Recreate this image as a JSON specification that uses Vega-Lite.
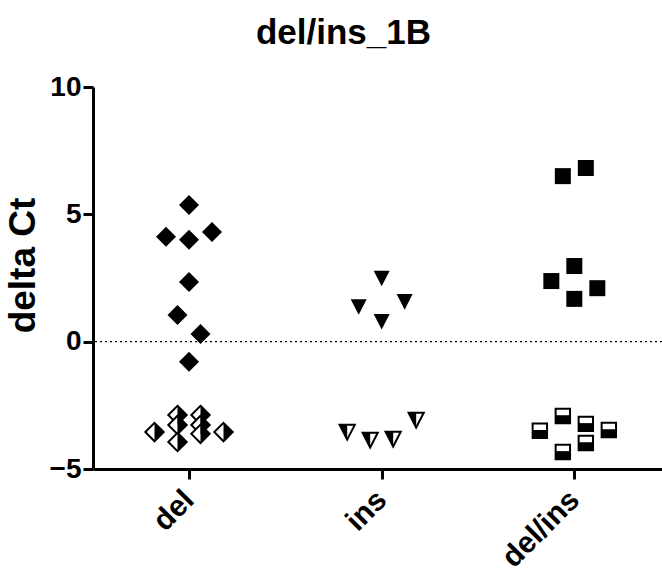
{
  "$schema": "https://vega.github.io/schema/vega-lite/v6.json",
  "width": 569,
  "height": 382,
  "autosize": "none",
  "padding": {"left": 93, "top": 87, "right": 0, "bottom": 101},
  "background": "white",
  "config": {
    "view": {"stroke": null},
    "font": "Liberation Sans"
  },
  "title": {
    "text": "del/ins_1B",
    "fontSize": 35,
    "fontWeight": "bold",
    "font": "Liberation Sans",
    "color": "black",
    "anchor": "middle",
    "offset": 22,
    "dx": -34
  },
  "resolve": {"scale": {"shape": "independent"}},
  "data": {
    "values": [
      {"group": "del", "value": 5.37, "jit": 0, "kind": "filled"},
      {"group": "del", "value": 4.12, "jit": -2, "kind": "filled"},
      {"group": "del", "value": 4.0, "jit": 0, "kind": "filled"},
      {"group": "del", "value": 4.31, "jit": 2, "kind": "filled"},
      {"group": "del", "value": 2.34, "jit": 0, "kind": "filled"},
      {"group": "del", "value": 1.05, "jit": -1, "kind": "filled"},
      {"group": "del", "value": 0.3, "jit": 1, "kind": "filled"},
      {"group": "del", "value": -0.79, "jit": 0, "kind": "filled"},
      {"group": "del", "value": -3.55, "jit": -3, "kind": "half"},
      {"group": "del", "value": -2.88, "jit": -1, "kind": "half"},
      {"group": "del", "value": -3.27, "jit": -1, "kind": "half"},
      {"group": "del", "value": -3.94, "jit": -1, "kind": "half"},
      {"group": "del", "value": -2.88, "jit": 1, "kind": "half"},
      {"group": "del", "value": -3.27, "jit": 1, "kind": "half"},
      {"group": "del", "value": -3.62, "jit": 1, "kind": "half"},
      {"group": "del", "value": -3.55, "jit": 3, "kind": "half"},
      {"group": "ins", "value": 2.49, "jit": 0, "kind": "filled"},
      {"group": "ins", "value": 1.37, "jit": -2, "kind": "filled"},
      {"group": "ins", "value": 1.57, "jit": 2, "kind": "filled"},
      {"group": "ins", "value": 0.79, "jit": 0, "kind": "filled"},
      {"group": "ins", "value": -3.55, "jit": -3, "kind": "half"},
      {"group": "ins", "value": -3.86, "jit": -1, "kind": "half"},
      {"group": "ins", "value": -3.82, "jit": 1, "kind": "half"},
      {"group": "ins", "value": -3.07, "jit": 3, "kind": "half"},
      {"group": "del/ins", "value": 6.5, "jit": -1, "kind": "filled"},
      {"group": "del/ins", "value": 6.82, "jit": 1, "kind": "filled"},
      {"group": "del/ins", "value": 2.97, "jit": 0, "kind": "filled"},
      {"group": "del/ins", "value": 2.38, "jit": -2, "kind": "filled"},
      {"group": "del/ins", "value": 2.1, "jit": 2, "kind": "filled"},
      {"group": "del/ins", "value": 1.68, "jit": 0, "kind": "filled"},
      {"group": "del/ins", "value": -3.5, "jit": -3, "kind": "half"},
      {"group": "del/ins", "value": -2.92, "jit": -1, "kind": "half"},
      {"group": "del/ins", "value": -3.23, "jit": 1, "kind": "half"},
      {"group": "del/ins", "value": -3.47, "jit": 3, "kind": "half"},
      {"group": "del/ins", "value": -4.33, "jit": -1, "kind": "half"},
      {"group": "del/ins", "value": -3.98, "jit": 1, "kind": "half"}
    ]
  },
  "encoding": {
    "x": {
      "field": "group",
      "type": "nominal",
      "sort": ["del", "ins", "del/ins"],
      "scale": {"domain": ["del", "ins", "del/ins"], "type": "band", "paddingInner": 0, "paddingOuter": 0, "range": [0, 578]},
      "axis": {
        "title": null,
        "domainWidth": 3,
        "domainColor": "black",
        "tickWidth": 3,
        "tickColor": "black",
        "tickSize": 10,
        "labelAngle": -45,
        "labelAlign": "right",
        "labelBaseline": "middle",
        "labelFontSize": 30,
        "labelFontWeight": "bold",
        "labelFont": "Liberation Sans",
        "labelColor": "black",
        "labelPadding": 16,
        "grid": false
      }
    },
    "xOffset": {
      "field": "jit",
      "type": "quantitative",
      "scale": {"domain": [-8.35, 8.35], "range": [0, 192]}
    },
    "y": {
      "field": "value",
      "type": "quantitative",
      "scale": {"domain": [-5, 10], "nice": false, "zero": false},
      "axis": {
        "title": "delta Ct",
        "titleFontSize": 37,
        "titleFontWeight": "bold",
        "titleFont": "Liberation Sans",
        "titleColor": "black",
        "titlePadding": 7,
        "titleY": 178,
        "values": [-5, 0, 5, 10],
        "domainWidth": 3,
        "domainColor": "black",
        "tickWidth": 3,
        "tickColor": "black",
        "tickSize": 10,
        "labelFontSize": 28,
        "labelFontWeight": "bold",
        "labelFont": "Liberation Sans",
        "labelColor": "black",
        "labelPadding": 2,
        "grid": false
      }
    }
  },
  "layer": [
    {
      "data": {"values": [{"y0": 0}]},
      "mark": {"type": "rule", "strokeDash": [2, 3], "strokeWidth": 1.2, "color": "black"},
      "encoding": {
        "y": {"field": "y0", "type": "quantitative"},
        "x": null,
        "xOffset": null
      }
    },
    {
      "transform": [{"filter": "datum.kind === 'filled'"}],
      "mark": {"type": "point", "filled": true, "color": "black", "opacity": 1, "size": 256},
      "encoding": {
        "shape": {
          "field": "group",
          "type": "nominal",
          "legend": null,
          "scale": {
            "domain": ["del", "ins", "del/ins"],
            "range": ["M0,-1.25L1.25,0L0,1.25L-1.25,0Z", "M-1,-0.95L1,-0.95L0,1Z", "M-1,-1H1V1H-1Z"]
          }
        }
      }
    },
    {
      "transform": [{"filter": "datum.kind === 'half'"}],
      "mark": {"type": "point", "filled": true, "fill": "white", "stroke": "black", "strokeWidth": 2, "opacity": 1, "size": 256},
      "encoding": {
        "shape": {
          "field": "group",
          "type": "nominal",
          "legend": null,
          "scale": {
            "domain": ["del", "ins", "del/ins"],
            "range": ["M0,-1.15L1.15,0L0,1.15L-1.15,0Z", "M-0.95,-0.9L0.95,-0.9L0,0.95Z", "M-0.9,-0.9H0.9V0.9H-0.9Z"]
          }
        }
      }
    },
    {
      "transform": [{"filter": "datum.kind === 'half'"}],
      "mark": {"type": "point", "filled": true, "color": "black", "opacity": 1, "size": 256},
      "encoding": {
        "shape": {
          "field": "group",
          "type": "nominal",
          "legend": null,
          "scale": {
            "domain": ["del", "ins", "del/ins"],
            "range": ["M0,-1.15L1.15,0L0,1.15Z", "M-0.95,-0.9L0,-0.9L0,0.95Z", "M-0.9,-0.1H0.9V0.9H-0.9Z"]
          }
        }
      }
    }
  ]
}
